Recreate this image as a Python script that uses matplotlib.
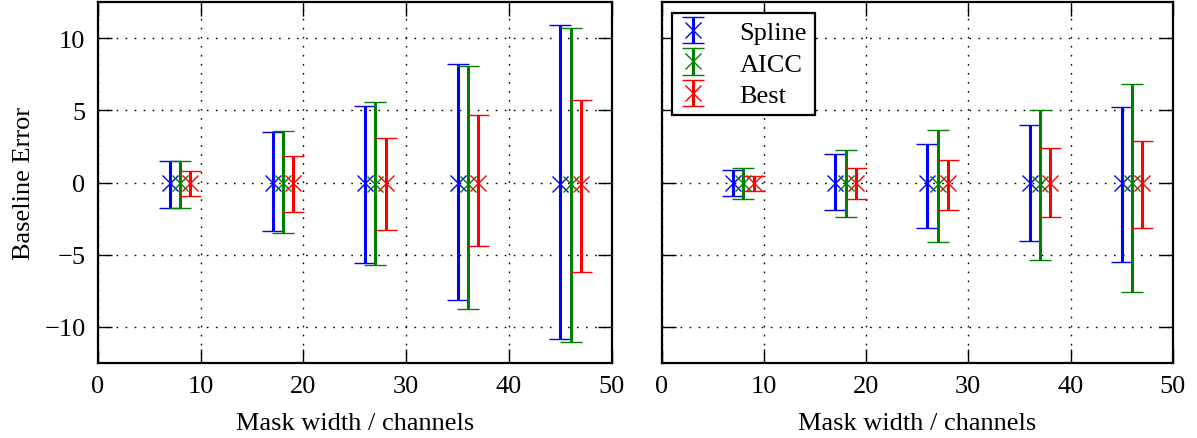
import matplotlib
matplotlib.use("Agg")
import matplotlib.pyplot as plt
import numpy as np

plt.rcParams['font.family'] = ['Liberation Serif', 'DejaVu Serif']
plt.rcParams['font.size'] = 19
plt.rcParams['mathtext.fontset'] = 'stix'

# Mask-width positions (each series offset by one channel for readability)
x_spline_left = [7, 17, 26, 35, 45]
x_aicc_left = [8, 18, 27, 36, 46]
x_best_left = [9, 19, 28, 37, 47]

x_spline_right = [7, 17, 26, 36, 45]
x_aicc_right = [8, 18, 27, 37, 46]
x_best_right = [9, 19, 28, 38, 47]

# Mean baseline error and error-bar extents, left panel
spline_left_mean = [-0.05, -0.05, -0.05, -0.05, -0.08]
spline_left_top = [1.48, 3.52, 5.32, 8.22, 10.95]
spline_left_bottom = [-1.78, -3.38, -5.60, -8.15, -10.83]

aicc_left_mean = [-0.05, -0.05, -0.08, -0.08, -0.12]
aicc_left_top = [1.48, 3.59, 5.58, 8.10, 10.74]
aicc_left_bottom = [-1.74, -3.52, -5.69, -8.80, -11.04]

best_left_mean = [-0.05, -0.05, -0.05, -0.05, -0.08]
best_left_top = [0.81, 1.81, 3.06, 4.65, 5.74]
best_left_bottom = [-0.93, -2.08, -3.31, -4.40, -6.18]

# Mean baseline error and error-bar extents, right panel
spline_right_mean = [-0.03, -0.03, -0.05, -0.05, -0.05]
spline_right_top = [0.88, 1.96, 2.66, 4.00, 5.27]
spline_right_bottom = [-0.97, -1.92, -3.16, -4.06, -5.50]

aicc_right_mean = [-0.05, -0.05, -0.08, -0.08, -0.05]
aicc_right_top = [1.02, 2.24, 3.67, 5.01, 6.84]
aicc_right_bottom = [-1.11, -2.42, -4.11, -5.36, -7.62]

best_right_mean = [-0.03, -0.03, -0.03, -0.03, -0.03]
best_right_top = [0.46, 1.02, 1.57, 2.40, 2.89]
best_right_bottom = [-0.58, -1.15, -1.89, -2.40, -3.14]

labels = ['Spline', 'AICC', 'Best']
colors = ['#0000ff', '#008000', '#ff0000']

fig = plt.figure(figsize=(11.97, 4.39), dpi=100)
ax1 = fig.add_axes([98 / 1197, 1 - 363.7 / 439, 513.7 / 1197, 360.4 / 439])
ax2 = fig.add_axes([661.7 / 1197, 1 - 363.7 / 439, 511.0 / 1197, 360.4 / 439], sharey=ax1)

left_sets = [
    (x_spline_left, spline_left_mean, spline_left_top, spline_left_bottom),
    (x_aicc_left, aicc_left_mean, aicc_left_top, aicc_left_bottom),
    (x_best_left, best_left_mean, best_left_top, best_left_bottom),
]
right_sets = [
    (x_spline_right, spline_right_mean, spline_right_top, spline_right_bottom),
    (x_aicc_right, aicc_right_mean, aicc_right_top, aicc_right_bottom),
    (x_best_right, best_right_mean, best_right_top, best_right_bottom),
]


def draw_panel(ax, sets):
    handles = []
    for (x, m, top, bot), c, lab in zip(sets, colors, labels):
        m = np.asarray(m)
        yerr = [m - np.asarray(bot), np.asarray(top) - m]
        h = ax.errorbar(x, m, yerr=yerr, fmt='x', color=c, ecolor=c,
                        markersize=12, markeredgewidth=1.0, elinewidth=2.2,
                        capsize=8, capthick=1.8, label=lab)
        handles.append(h)
    ax.set_xlim(0, 50)
    ax.set_ylim(-12.5, 12.5)
    ax.set_xticks([0, 10, 20, 30, 40, 50])
    ax.set_yticks([-10, -5, 0, 5, 10])
    ax.grid(True, color='black', linestyle=(0, (1.2, 5.3)), linewidth=1.0)
    ax.set_axisbelow(True)
    ax.tick_params(direction='in', length=10, width=1.0, top=True, right=True,
                   labelsize=19, pad=9)
    for sp in ax.spines.values():
        sp.set_linewidth(1.6)
    ax.set_xlabel('Mask width / channels', fontsize=19, labelpad=11)
    return handles


draw_panel(ax1, left_sets)
handles = draw_panel(ax2, right_sets)
ax1.set_ylabel('Baseline Error', fontsize=19, labelpad=7)
plt.setp(ax2.get_yticklabels(), visible=False)

leg = ax2.legend(handles=handles, loc='upper left', numpoints=1,
                 fancybox=False, framealpha=1.0, edgecolor='black',
                 borderaxespad=0.4, handlelength=1.0, handletextpad=1.25,
                 labelspacing=0.3, borderpad=0.3, fontsize=19)
leg.get_frame().set_linewidth(1.6)

fig.savefig('out.png', dpi=100)
